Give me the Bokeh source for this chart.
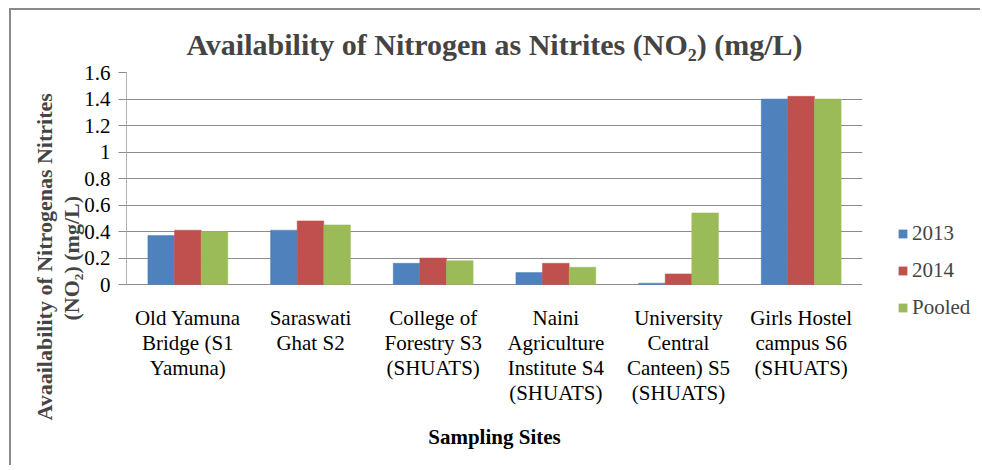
from bokeh.plotting import figure
from bokeh.layouts import row
from bokeh.models import (FactorRange, Range1d, Legend, LegendItem, Title,
                          FixedTicker, NumeralTickFormatter, ColumnDataSource)
from bokeh.transform import dodge
from bokeh.embed import file_html
from bokeh.resources import INLINE

sites = [
    "Old Yamuna\nBridge (S1\nYamuna)",
    "Saraswati\nGhat S2",
    "College of\nForestry S3\n(SHUATS)",
    "Naini\nAgriculture\nInstitute S4\n(SHUATS)",
    "University\nCentral\nCanteen) S5\n(SHUATS)",
    "Girls Hostel\ncampus S6\n(SHUATS)",
]
series_names = ["2013", "2014", "Pooled"]
values_2013 = [0.37, 0.41, 0.16, 0.09, 0.01, 1.40]
values_2014 = [0.41, 0.48, 0.20, 0.16, 0.08, 1.42]
values_pooled = [0.40, 0.45, 0.18, 0.13, 0.54, 1.40]
y_ticks = [0, 0.2, 0.4, 0.6, 0.8, 1.0, 1.2, 1.4, 1.6]
y_min, y_max = 0, 1.6

title_text = "Availability of Nitrogen as Nitrites (NO\u2082) (mg/L)"
y_title_1 = "Avaailability of Nitrogenas Nitrites"
y_title_2 = "(NO\u2082) (mg/L)"
x_title = "Sampling Sites"

colors = ["#4F81BD", "#C0504D", "#9BBB59"]
FONT = "Liberation Serif"
cols = ["v2013", "v2014", "vpooled"]

source = ColumnDataSource(data=dict(site=sites, v2013=values_2013,
                                    v2014=values_2014, vpooled=values_pooled))

# frame extends 36px below the value axis so that the side legend can reach lower
extra_below = 36.0 / 212.0 * (y_max - y_min)
p = figure(x_range=FactorRange(factors=sites, range_padding=0, factor_padding=0),
           y_range=Range1d(y_min - extra_below, y_max),
           width=880, height=455,
           output_backend="svg", toolbar_location=None,
           min_border_left=115, min_border_right=29,
           min_border_top=62, min_border_bottom=145,
           title=title_text)

bw = 0.217
for i, col in enumerate(cols):
    p.vbar(x=dodge("site", (i - 1) * bw, range=p.x_range), top=col, width=bw,
           source=source, fill_color=colors[i], line_color=colors[i], line_width=0.5)

p.title.text_font = FONT
p.title.text_font_size = "30px"
p.title.text_font_style = "bold"
p.title.align = "center"
p.title.standoff = 24

p.outline_line_color = None
p.background_fill_color = "white"
p.border_fill_color = "white"
p.xgrid.grid_line_color = None
p.ygrid.grid_line_color = "#8c8c8c"
p.ygrid.grid_line_width = 1
p.ygrid.ticker = FixedTicker(ticks=y_ticks)

p.yaxis.ticker = FixedTicker(ticks=y_ticks)
p.yaxis.bounds = (y_min, y_max)
p.yaxis.formatter = NumeralTickFormatter(format="0.[0]")
p.yaxis.axis_line_color = "#b4b4b4"
p.yaxis.major_tick_line_color = "#8c8c8c"
p.yaxis.major_tick_out = 8
p.yaxis.major_tick_in = 0
p.yaxis.minor_tick_line_color = None
p.yaxis.major_label_text_font = FONT
p.yaxis.major_label_text_font_size = "21px"
p.yaxis.major_label_text_color = "black"
p.yaxis.major_label_standoff = 8

# x axis sits at the bottom of the frame; its labels are pulled up to the zero line
p.xaxis.axis_line_color = None
p.xaxis.major_tick_line_color = None
p.xaxis.minor_tick_line_color = None
p.xaxis.major_label_text_font = FONT
p.xaxis.major_label_text_font_size = "21px"
p.xaxis.major_label_text_color = "black"
p.xaxis.major_label_text_line_height = 1.05
p.xaxis.major_label_standoff = -21
p.xaxis.major_label_orientation = "horizontal"
p.xaxis.axis_label = x_title
p.xaxis.axis_label_text_font = FONT
p.xaxis.axis_label_text_font_size = "21px"
p.xaxis.axis_label_text_font_style = "bold"
p.xaxis.axis_label_text_color = "black"
p.xaxis.axis_label_standoff = 17

# y-axis title: two rotated lines on the left side
p.add_layout(Title(text=y_title_2, align="left", offset=0, standoff=-5,
                   text_font=FONT, text_font_size="22px", text_font_style="bold"), "left")
p.add_layout(Title(text=y_title_1, align="left", offset=-100, standoff=5,
                   text_font=FONT, text_font_size="22px", text_font_style="bold"), "left")

# legend panel
q = figure(x_range=FactorRange(factors=sites), y_range=Range1d(100, 101),
           width=89, height=455, output_backend="svg", toolbar_location=None,
           x_axis_location=None, y_axis_location=None, min_border=0)
q.outline_line_color = None
q.grid.visible = False
q.background_fill_color = "white"
q.border_fill_color = "white"
legend_renderers = []
for i, col in enumerate(cols):
    r = q.vbar(x="site", top=col, width=0.001, source=source,
               fill_color=colors[i], line_color=colors[i], line_alpha=0)
    legend_renderers.append(r)

legend = Legend(items=[LegendItem(label=n, renderers=[r])
                       for n, r in zip(series_names, legend_renderers)],
                location=(6, 0), orientation="vertical",
                glyph_width=11, glyph_height=11, label_standoff=4,
                label_text_font=FONT, label_text_font_size="21px",
                label_height=22, spacing=12, padding=0, margin=0,
                border_line_color=None, background_fill_alpha=0)
q.add_layout(legend)

layout = row(p, q)
layout.styles = {"border-top": "2px solid #8a8a8a", "border-left": "2px solid #8a8a8a",
                 "margin-left": "9px", "margin-top": "8px"}

open("out.html", "w").write(file_html(layout, INLINE))
